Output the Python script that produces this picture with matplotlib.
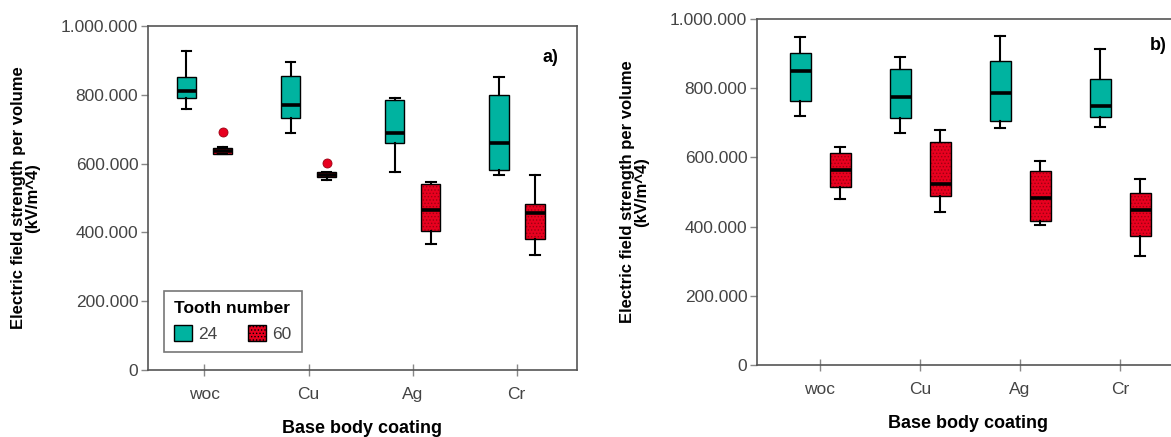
import numpy as np
import matplotlib
matplotlib.use('Agg')
import matplotlib.pyplot as plt
from matplotlib.patches import Patch, PathPatch
from matplotlib.ticker import FuncFormatter


plt.rcParams['font.family'] = ['Liberation Sans', 'DejaVu Sans']
plt.rcParams['hatch.linewidth'] = 0.6

# ===== Data (kV/m^4) =====
categories = ['woc', 'Cu', 'Ag', 'Cr']
groups = ['24', '60']

# panel a)
a_24_low = [759000, 688000, 577000, 566000]
a_24_q1 = [790000, 732000, 661000, 582000]
a_24_med = [812000, 769000, 688000, 659000]
a_24_q3 = [851000, 856000, 786000, 799000]
a_24_high = [928000, 895000, 792000, 852000]
a_24_out = [[], [], [], []]

a_60_low = [627000, 552000, 367000, 334000]
a_60_q1 = [628000, 562000, 403000, 382000]
a_60_med = [638000, 568000, 465000, 456000]
a_60_q3 = [646000, 575000, 541000, 483000]
a_60_high = [647000, 577000, 547000, 566000]
a_60_out = [[691000], [603000], [], []]

# panel b)
b_24_low = [721000, 670000, 686000, 689000]
b_24_q1 = [763000, 713000, 706000, 716000]
b_24_med = [849000, 776000, 787000, 748000]
b_24_q3 = [901000, 856000, 880000, 827000]
b_24_high = [947000, 890000, 952000, 913000]
b_24_out = [[], [], [], []]

b_60_low = [479000, 441000, 405000, 314000]
b_60_q1 = [514000, 488000, 415000, 374000]
b_60_med = [563000, 523000, 484000, 449000]
b_60_q3 = [612000, 644000, 560000, 496000]
b_60_high = [631000, 679000, 590000, 538000]
b_60_out = [[], [], [], []]


teal = '#00b3a0'
red = '#e8001f'
dark_red = '#9c0012'
gray_txt = '#444444'
spine_col = '#555555'


def make_stats(low, q1, med, q3, high, out):
    return [dict(whislo=a, q1=b, med=c, q3=d, whishi=e, fliers=f)
            for a, b, c, d, e, f in zip(low, q1, med, q3, high, out)]


def draw_group(ax, stats, pos, width, color, hatch=None):
    bp = ax.bxp(stats, positions=pos, widths=width, patch_artist=True,
                showfliers=True, manage_ticks=False,
                medianprops=dict(color='black', lw=2.6),
                whiskerprops=dict(color='black', lw=1.5),
                capprops=dict(color='black', lw=1.5),
                flierprops=dict(marker='o', mfc=red, mec=dark_red, mew=0.6, ms=6.5),
                boxprops=dict(lw=1))
    for box in bp['boxes']:
        box.set_facecolor(color)
        if hatch:
            box.set_edgecolor(dark_red)
            box.set_linewidth(0)
            box.set_hatch(hatch)
            ax.add_patch(PathPatch(box.get_path(), fill=False, edgecolor='black', lw=1, zorder=box.get_zorder() + 0.1))
        else:
            box.set_edgecolor('black')
    return bp


def panel(ax, s24, s60, off, width, xlim, tag, tag_xy, label_x):
    x = np.arange(len(categories))
    draw_group(ax, s24, x - off, width, teal)
    draw_group(ax, s60, x + off, width, red, hatch='.....')

    ax.set_xlim(*xlim)
    ax.set_ylim(0, 1000000)
    ax.set_xticks(x)
    ax.set_xticklabels(categories)
    ax.set_yticks(np.arange(0, 1000001, 200000))
    ax.yaxis.set_major_formatter(FuncFormatter(lambda v, p: f'{int(v):,}'.replace(',', '.')))

    ax.tick_params(axis='x', direction='inout', length=9, width=1, color='#888888',
                   labelsize=12.5, labelcolor=gray_txt, pad=8)
    ax.tick_params(axis='y', direction='out', length=5, width=1, color='#888888',
                   labelsize=12.5, labelcolor=gray_txt, pad=2)
    for s in ax.spines.values():
        s.set_color(spine_col)
        s.set_linewidth(1.2)

    ax.set_xlabel('Base body coating', fontsize=13, fontweight='bold', labelpad=13)
    ax.set_ylabel('Electric field strength per volume\n(kV/m^4)', fontsize=12,
                  fontweight='bold', linespacing=0.9)
    ax.yaxis.set_label_coords(label_x, 0.5)
    ax.text(tag_xy[0], tag_xy[1], tag, transform=ax.transAxes, fontsize=13,
            fontweight='bold', ha='center', va='center')


fig = plt.figure(figsize=[11.71, 4.37], dpi=100)

ax1 = fig.add_axes([148 / 1171, 1 - 370 / 437, 429 / 1171, 344 / 437])
ax2 = fig.add_axes([757 / 1171, 1 - 365 / 437, 423 / 1171, 346 / 437])

panel(ax1,
      make_stats(a_24_low, a_24_q1, a_24_med, a_24_q3, a_24_high, a_24_out),
      make_stats(a_60_low, a_60_q1, a_60_med, a_60_q3, a_60_high, a_60_out),
      0.173, 0.19, (-0.543, 3.58), 'a)', (0.937, 0.907), -0.252)

panel(ax2,
      make_stats(b_24_low, b_24_q1, b_24_med, b_24_q3, b_24_high, b_24_out),
      make_stats(b_60_low, b_60_q1, b_60_med, b_60_q3, b_60_high, b_60_out),
      0.2, 0.21, (-0.63, 3.6), 'b)', (0.948, 0.924), -0.255)

# Legend (panel a only)
handles = [Patch(facecolor=teal, edgecolor='black', lw=1),
           Patch(facecolor=red, edgecolor='black', lw=1, hatch='.....')]
leg = ax1.legend(handles, groups, title='Tooth number', ncol=2, loc='lower left',
                 bbox_to_anchor=(0.037, 0.052), borderaxespad=0, fancybox=False,
                 edgecolor='#555555', fontsize=12.5, handlelength=1.0, handleheight=1.0,
                 columnspacing=1.75, handletextpad=0.4, borderpad=0.6,
                 title_fontproperties={'weight': 'bold', 'size': 12.5})
leg.get_frame().set_linewidth(1.2)
leg._legend_box.align = 'left'
for t in leg.get_texts():
    t.set_color(gray_txt)

fig.savefig('out.png', dpi=100)
